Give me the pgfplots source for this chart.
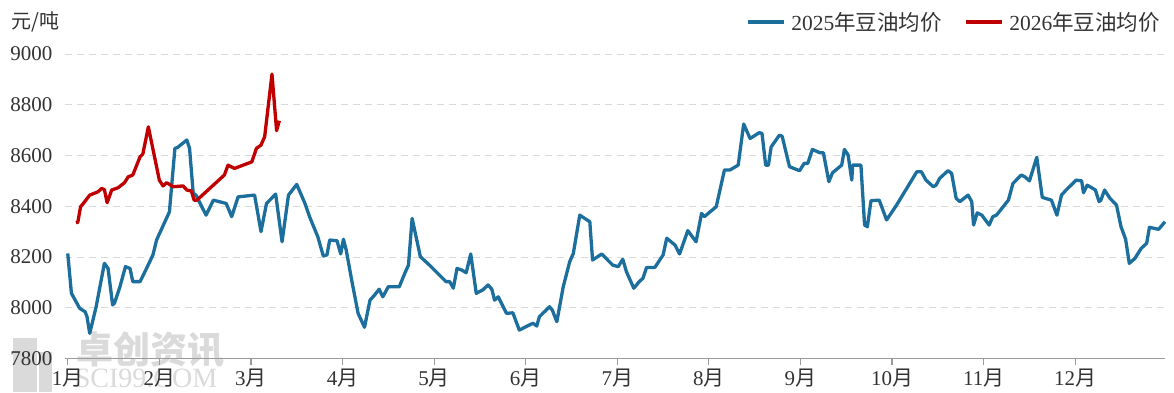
\documentclass[border=0pt]{standalone}
\usepackage{fontspec}
\setmainfont{Liberation Serif}
\newfontfamily\cjk{Noto Sans CJK SC}
\usepackage{pgfplots}
\pgfplotsset{compat=1.18}
\usepackage{pgfplotstable}
\definecolor{cA}{HTML}{1C6F9C}
\definecolor{cB}{HTML}{C00000}
\definecolor{gridgray}{HTML}{D9D9D9}
\definecolor{axisgray}{HTML}{9A9A9A}
\definecolor{textgray}{HTML}{333333}
\definecolor{wm}{HTML}{DADADA}

\pgfplotstableread{
m v
0.00 8214
0.04 8057
0.13 7998
0.19 7984
0.21 7965
0.24 7899
0.31 8004
0.40 8175
0.44 8155
0.49 8011
0.51 8018
0.57 8083
0.63 8162
0.68 8155
0.71 8103
0.79 8103
0.86 8155
0.93 8208
0.97 8267
1.11 8378
1.17 8628
1.20 8632
1.30 8661
1.33 8628
1.37 8451
1.40 8444
1.51 8365
1.59 8424
1.73 8411
1.79 8359
1.86 8437
2.04 8444
2.11 8300
2.17 8411
2.27 8448
2.34 8260
2.41 8444
2.50 8486
2.59 8411
2.64 8359
2.73 8280
2.79 8204
2.83 8208
2.86 8267
2.94 8264
2.98 8212
3.01 8270
3.04 8228
3.10 8109
3.17 7978
3.24 7923
3.30 8030
3.35 8050
3.40 8073
3.44 8043
3.50 8083
3.62 8083
3.68 8136
3.72 8168
3.76 8352
3.85 8201
3.95 8168
4.13 8103
4.17 8103
4.21 8077
4.25 8155
4.30 8149
4.35 8138
4.40 8212
4.46 8057
4.53 8070
4.59 8090
4.63 8073
4.66 8030
4.70 8043
4.79 7978
4.86 7980
4.93 7912
5.04 7932
5.08 7939
5.12 7928
5.15 7965
5.26 8004
5.29 7991
5.34 7945
5.41 8083
5.48 8181
5.52 8214
5.59 8365
5.70 8339
5.73 8188
5.83 8212
5.95 8168
6.01 8162
6.06 8191
6.10 8142
6.18 8077
6.24 8103
6.28 8116
6.32 8159
6.41 8159
6.50 8208
6.54 8274
6.63 8247
6.68 8212
6.77 8304
6.86 8260
6.92 8372
6.95 8359
7.08 8398
7.17 8543
7.23 8543
7.32 8562
7.38 8724
7.45 8667
7.55 8690
7.58 8687
7.62 8562
7.65 8562
7.68 8634
7.77 8680
7.80 8676
7.88 8556
7.99 8540
8.04 8569
8.08 8569
8.13 8624
8.21 8611
8.25 8611
8.31 8497
8.35 8532
8.45 8562
8.48 8624
8.52 8602
8.56 8503
8.57 8562
8.66 8562
8.70 8326
8.73 8319
8.77 8422
8.86 8424
8.94 8346
9.05 8405
9.27 8536
9.32 8536
9.37 8503
9.45 8477
9.48 8483
9.52 8510
9.61 8540
9.65 8530
9.70 8431
9.74 8418
9.83 8444
9.87 8418
9.89 8326
9.93 8374
9.98 8365
10.06 8326
10.10 8359
10.14 8365
10.27 8424
10.32 8490
10.41 8523
10.45 8516
10.50 8500
10.58 8593
10.64 8435
10.74 8424
10.80 8365
10.85 8444
10.90 8464
11.01 8503
11.07 8500
11.09 8453
11.13 8483
11.16 8477
11.22 8464
11.26 8418
11.28 8424
11.32 8464
11.38 8431
11.45 8405
11.50 8319
11.55 8270
11.59 8175
11.65 8194
11.72 8234
11.78 8254
11.81 8317
11.91 8309
11.98 8339
}\dataA

\pgfplotstableread{
m v
0.09 8335
0.11 8337
0.14 8398
0.17 8411
0.24 8444
0.33 8457
0.37 8470
0.40 8466
0.43 8414
0.48 8464
0.55 8473
0.62 8493
0.66 8516
0.71 8523
0.79 8595
0.82 8606
0.88 8713
1.00 8503
1.04 8480
1.08 8493
1.15 8477
1.26 8480
1.30 8464
1.35 8460
1.38 8424
1.41 8424
1.71 8523
1.75 8562
1.82 8549
2.01 8575
2.06 8628
2.11 8641
2.15 8674
2.23 8921
2.28 8698
2.31 8737
}\dataB

\begin{document}
\begin{tikzpicture}
\useasboundingbox (0,0) rectangle (1174pt,392pt);
% watermark
\fill[wm] (13pt,0pt) rectangle (37pt,54pt);
\fill[wm] (39pt,0pt) rectangle (52pt,40pt);
\node[text=wm, font={\cjk\bfseries\fontsize{37}{37}\selectfont}, anchor=center] at (150pt,42pt) {卓创资讯};
\node[text=wm, font={\fontsize{28}{28}\selectfont}, anchor=center] at (146pt,14pt) {SCI99.COM};
\node[anchor=west, text=textgray, font={\cjk\fontsize{20}{20}\selectfont}] at (8pt,370pt) {元/吨};
\begin{axis}[
  at={(65pt,33.5pt)}, anchor=south west,
  scale only axis, width=1100pt, height=304.5pt,
  xmin=-0.03, xmax=11.98, ymin=7800, ymax=9000,
  xtick={0,1,2,3,4,5,6,7,8,9,10,11},
  xticklabels={1{\cjk 月},2{\cjk 月},3{\cjk 月},4{\cjk 月},5{\cjk 月},6{\cjk 月},7{\cjk 月},8{\cjk 月},9{\cjk 月},10{\cjk 月},11{\cjk 月},12{\cjk 月}},
  ytick={7800,8000,8200,8400,8600,8800,9000},
  /pgf/number format/assume math mode=true,
  /pgf/number format/1000 sep={},
  ymajorgrids,
  grid style={gridgray, line width=1pt, dash pattern=on 7pt off 5pt},
  axis x line*=bottom, axis y line*=left,
  y axis line style={draw=none},
  x axis line style={axisgray, line width=1.2pt},
  ytick style={draw=none},
  xtick style={axisgray, line width=1.2pt},
  tick align=outside, major tick length=6pt,
  tick label style={font=\fontsize{21}{21}\selectfont, text=textgray},
  yticklabel style={xshift=-3pt},
  xticklabel style={yshift=-1pt},
  legend columns=2,
  legend style={draw=none, fill=none, at={(1.0,1.105)}, anchor=east,
    font=\fontsize{21.5}{21.5}\selectfont, text=textgray,
    /tikz/every even column/.append style={column sep=20pt},
    /tikz/every odd column/.append style={column sep=4pt}},
  legend image code/.code={\draw[#1, line width=3.3pt] (0pt,0pt) -- (36pt,0pt);},
  clip=false,
]
\addplot[cA, line width=3.3pt, line join=round, no marks] table[x=m,y=v] {\dataA};
\addlegendentry{2025{\cjk 年豆油均价}}
\addplot[cB, line width=3.3pt, line join=round, no marks] table[x=m,y=v] {\dataB};
\addlegendentry{2026{\cjk 年豆油均价}}
\end{axis}
\end{tikzpicture}
\end{document}
